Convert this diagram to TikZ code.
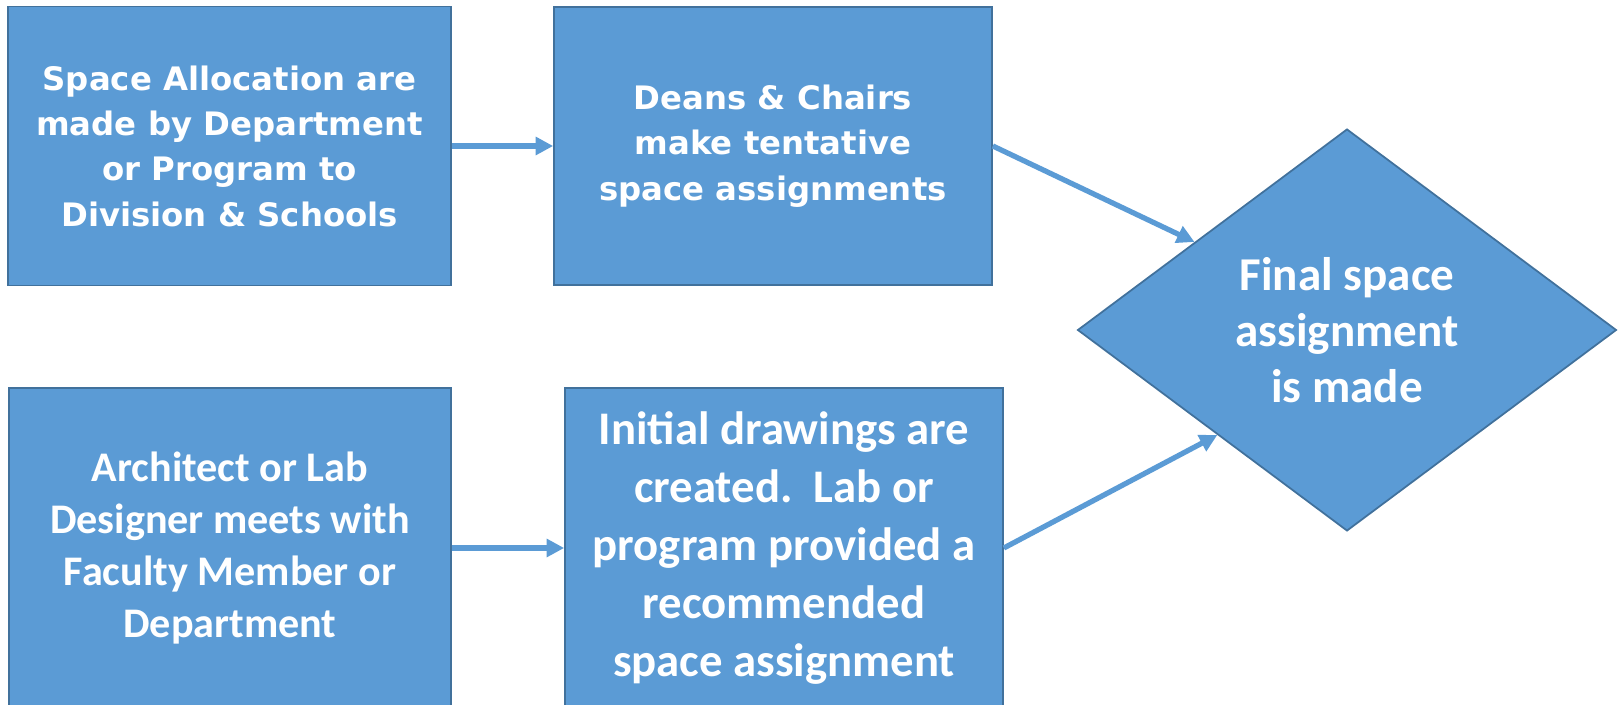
\documentclass[tikz,border=0pt]{standalone}
\usepackage{fontspec}
\setmainfont{Carlito}
\newfontfamily\boxfont{DejaVu Sans}
\usetikzlibrary{shapes.geometric,arrows.meta}
\definecolor{fond}{RGB}{91,155,213}
\definecolor{bord}{RGB}{65,113,156}

\begin{document}
\begin{tikzpicture}[x=0.02cm,y=-0.02cm,
	boite/.style={draw=bord,fill=fond,line width=1pt,text=white,align=center,inner sep=0pt},
	verd/.style={font=\boxfont\bfseries\fontsize{18.4}{25.8}\selectfont},
	cali/.style={font=\bfseries\fontsize{26.6}{32.9}\selectfont},
	fleche/.style={draw=fond,line width=3pt,-{Triangle[length=10pt,width=10pt]}}]
	\useasboundingbox (0,0) rectangle (1619,705);

	% haut
	\node[boite,verd,minimum width=8.86cm,minimum height=5.58cm] (alloc) at (229.5,146)
		{Space Allocation are\\made by Department\\or Program to\\Division \& Schools};
	\node[boite,verd,minimum width=8.76cm,minimum height=5.56cm] (doyens) at (773,146)
		{Deans \& Chairs\\make tentative\\space assignments};

	% bas
	\node[boite,font=\bfseries\fontsize{24}{29.5}\selectfont,minimum width=8.84cm,minimum height=6.4cm] (archi) at (230,548)
		{Architect or Lab\\Designer meets with\\Faculty Member or\\Department};
	\node[boite,cali,minimum width=8.76cm,minimum height=6.4cm] (plans) at (784,548)
		{Initial drawings are\\created.~~Lab or\\program provided a\\recommended\\space assignment};

	% decision
	\node[boite,cali,shape=diamond,aspect=1.34,minimum width=10.78cm,minimum height=8.04cm,
		font=\bfseries\fontsize{26.8}{31.7}\selectfont] (final) at (1347,330)
		{Final space\\assignment\\is made};

	% fleches
	\draw[fleche] (alloc.east) -- (doyens.west);
	\draw[fleche] (doyens.east) -- (final.150);
	\draw[fleche] (archi.east) -- (plans.west);
	\draw[fleche] (plans.east) -- (final.219);
\end{tikzpicture}
\end{document}
